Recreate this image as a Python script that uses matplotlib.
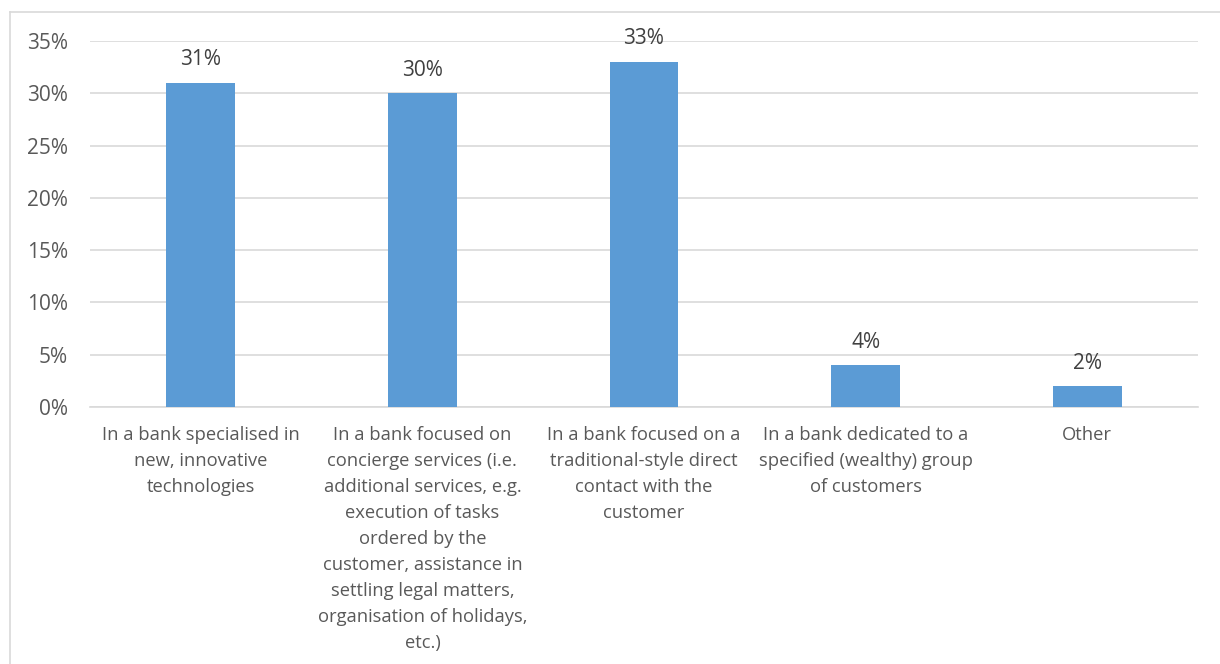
import matplotlib.pyplot as plt
from matplotlib.lines import Line2D
from matplotlib.ticker import FuncFormatter

categories = [
    "In a bank specialised in\nnew, innovative\ntechnologies",
    "In a bank focused on\nconcierge services (i.e.\nadditional services, e.g.\nexecution of tasks\nordered by the\ncustomer, assistance in\nsettling legal matters,\norganisation of holidays,\netc.)",
    "In a bank focused on a\ntraditional-style direct\ncontact with the\ncustomer",
    "In a bank dedicated to a\nspecified (wealthy) group\nof customers",
    "Other",
]
values = [31, 30, 33, 4, 2]
y_ticks = [0, 5, 10, 15, 20, 25, 30, 35]

plt.rcParams['font.family'] = ['Open Sans', 'DejaVu Sans']

fig = plt.figure(figsize=(12.2, 6.64), dpi=100)
ax = fig.add_axes([90 / 1220, 1 - 407 / 664, 1108 / 1220, 366 / 664])

x = range(len(values))
bars = ax.bar(x, values, width=0.31, color='#5B9BD5', zorder=3)

for xi, v in zip(x, values):
    ax.annotate(f"{v}%", (xi, v), xytext=(0, 9), textcoords='offset points',
                ha='center', va='bottom', fontsize=15, color='#404040')

ax.set_xlim(-0.5, len(values) - 0.5)
ax.set_ylim(0, 35)
ax.set_yticks(y_ticks)
ax.yaxis.set_major_formatter(FuncFormatter(lambda v, p: f"{v:.0f}%"))
ax.grid(axis='y', color='#D9D9D9', linewidth=1.2, zorder=0)
ax.set_xticks(list(x))
ax.set_xticklabels(categories, fontsize=13.2, color='#595959', linespacing=1.57, va='top')
ax.tick_params(axis='y', labelsize=15, labelcolor='#595959', length=0, pad=16)
ax.tick_params(axis='x', length=0, pad=14)
for s in ['top', 'right', 'left']:
    ax.spines[s].set_visible(False)
ax.spines['bottom'].set_color('#D9D9D9')
ax.spines['bottom'].set_linewidth(1.2)

# chart frame (only left and top edges visible)
fig.add_artist(Line2D([10 / 1220, 10 / 1220], [0, 1 - 12 / 664], transform=fig.transFigure,
                      color='#D9D9D9', linewidth=1.2))
fig.add_artist(Line2D([10 / 1220, 1], [1 - 12 / 664, 1 - 12 / 664], transform=fig.transFigure,
                      color='#D9D9D9', linewidth=1.2))

fig.savefig('out.png', dpi=100)
